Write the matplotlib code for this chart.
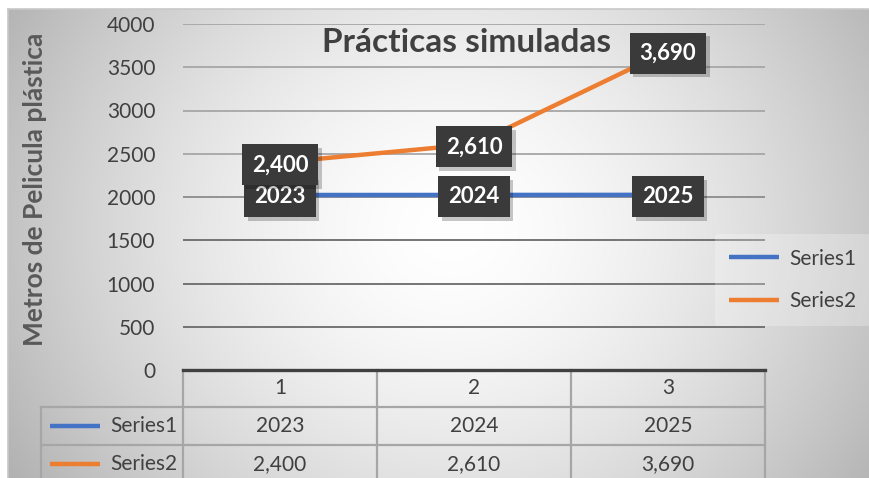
import numpy as np
import matplotlib
matplotlib.use("Agg")
import matplotlib.pyplot as plt
from matplotlib.lines import Line2D
import matplotlib.patheffects as pe

# Data
categories = ["1", "2", "3"]
series_names = ["Series1", "Series2"]
series1 = [2023, 2024, 2025]
series2 = [2400, 2610, 3690]
series1_labels = ["2023", "2024", "2025"]
series2_labels = ["2,400", "2,610", "3,690"]
colors = ["#4472C4", "#ED7D31"]

plt.rcParams["font.family"] = ["Lato", "DejaVu Sans"]
txt = "#404040"

W, H = 870, 478
fig = plt.figure(figsize=(W / 100, H / 100), dpi=100)

# background: radial gray gradient, like the Excel chart area
bg = fig.add_axes([0, 0, 1, 1], zorder=-10)
yy, xx = np.mgrid[0:H, 0:W]
d = np.sqrt(((xx - 450) / 470.0) ** 2 + ((yy - 230) / 420.0) ** 2)
g = 1.0 - 0.26 * np.clip(d, 0, 1.2) ** 1.6
img = np.dstack([g, g, g])
img[:9, :, :] = 1.0
img[:, :8, :] = 1.0
bg.imshow(img, aspect="auto", extent=[0, W, H, 0])
bg.plot([8, W], [9, 9], color="#c8c8c8", lw=1.2)
bg.plot([8, 8], [9, H], color="#c8c8c8", lw=1.2)
bg.set_xlim(0, W)
bg.set_ylim(H, 0)
bg.axis("off")

ax = fig.add_axes([183 / W, 108 / H, 582 / W, 346 / H])
ax.patch.set_alpha(0)
x = np.arange(1, len(categories) + 1)

ax.plot(x, series1, color=colors[0], lw=3.2, solid_capstyle="butt", zorder=3)
ax.plot(x, series2, color=colors[1], lw=3.2, solid_capstyle="butt", zorder=3)


def label(xi, yv, s, z):
    t = ax.text(xi, yv, s, ha="center", va="center", color="white", fontsize=16,
                fontweight="bold", zorder=z,
                bbox=dict(boxstyle="square,pad=0.45", fc="#3a3a3a", ec="none"))
    t.get_bbox_patch().set_path_effects(
        [pe.SimplePatchShadow(offset=(2.5, -2.5), shadow_rgbFace="black", alpha=0.22),
         pe.Normal()])


for xi, v, s in zip(x, series1, series1_labels):
    label(xi, v - 20, s, 5)
for xi, v, s in zip(x, series2, series2_labels):
    label(xi, v - 30, s, 6)

ax.set_xlim(0.5, len(categories) + 0.5)
ax.set_ylim(0, 4000)
yticks = np.arange(0, 4001, 500)
ax.set_yticks(yticks)
ax.yaxis.grid(True, color="#a6a6a6", lw=1.3)
for gl, v in zip(ax.get_ygridlines(), yticks):
    if v <= 1500:
        gl.set_color("#6a6a6a")
    elif v == 2000:
        gl.set_color("#8c8c8c")
ax.set_axisbelow(True)
ax.set_xticks([])
ax.tick_params(axis="y", length=0, pad=20, labelsize=15, labelcolor=txt)
for s in ["top", "right", "left"]:
    ax.spines[s].set_visible(False)
ax.spines["bottom"].set_color("#404040")
ax.spines["bottom"].set_linewidth(2.4)

# data table under the axis
tab = "#a6a6a6"
to_ax = lambda py: (370 - py) / 346.0
left = (41 - 183) / 582.0
y_rows = [to_ax(407), to_ax(445)]
y_bot = to_ax(H + 5)
tr = ax.get_xaxis_transform()
for xb in np.arange(0.5, len(categories) + 1.0, 1.0):
    ax.plot([xb, xb], [0, y_bot], color=tab, lw=1.6, transform=tr, clip_on=False)
for yr in y_rows:
    ax.plot([left, 1], [yr, yr], color=tab, lw=1.6, transform=ax.transAxes, clip_on=False)
ax.plot([left, left], [y_rows[0], y_bot], color=tab, lw=1.6, transform=ax.transAxes, clip_on=False)

for xi, c in zip(x, categories):
    ax.text(xi, to_ax(388), c, transform=tr, ha="center", va="center", fontsize=15, color=txt)
row_y = [to_ax(426), to_ax(464)]
for ry, name, col, labels in zip(row_y, series_names, colors, [series1_labels, series2_labels]):
    ax.plot([(50 - 183) / 582.0, (100 - 183) / 582.0], [ry, ry], color=col, lw=3.2,
            transform=ax.transAxes, clip_on=False, solid_capstyle="butt")
    ax.text((110 - 183) / 582.0, ry, name, transform=ax.transAxes, ha="left", va="center",
            fontsize=15, color=txt)
    for xi, s in zip(x, labels):
        ax.text(xi, ry, s, transform=tr, ha="center", va="center", fontsize=15, color=txt)

# legend on the right
handles = [Line2D([0], [0], color=c, lw=3.2, solid_capstyle="butt") for c in colors]
leg = fig.legend(handles, series_names, loc="center", bbox_to_anchor=(793 / W, 1 - 280 / H),
                 fontsize=15, frameon=True, handlelength=2.4, labelspacing=1.1,
                 handletextpad=0.5, borderpad=0.7)
leg.get_frame().set_facecolor("white")
leg.get_frame().set_alpha(0.25)
leg.get_frame().set_edgecolor("none")
for t in leg.get_texts():
    t.set_color(txt)

fig.text(467 / W, 1 - 42 / H, "Prácticas simuladas", ha="center", va="center",
         fontsize=24, fontweight="bold", color=txt)
fig.text(35 / W, 1 - 189 / H, "Metros de Pelicula plástica", ha="center", va="center",
         rotation=90, fontsize=19, fontweight="bold", color="#595959")

fig.savefig("out.png", dpi=100)
